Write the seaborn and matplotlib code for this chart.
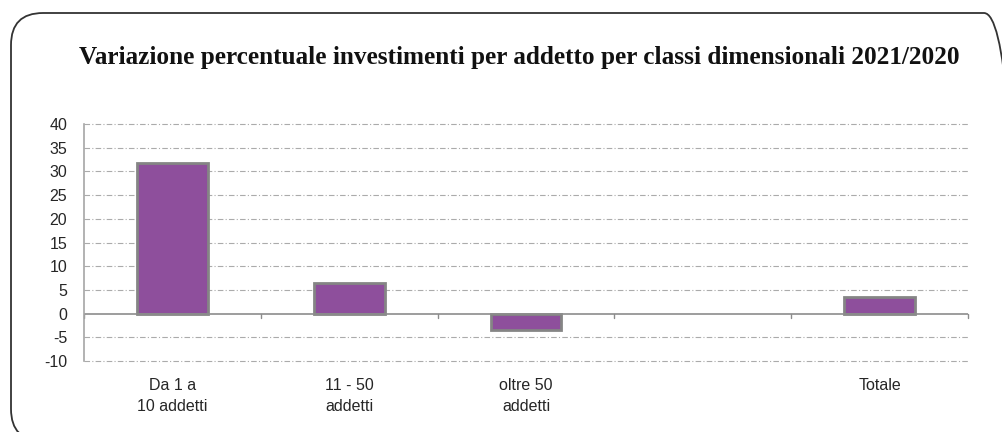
import seaborn as sns
import pandas as pd
import matplotlib.pyplot as plt
from matplotlib.patches import FancyBboxPatch

# Chart data
categories = ["Da 1 a\n10 addetti", "11 - 50\naddetti", "oltre 50\naddetti", " ", "Totale"]
bar_labels = ["Da 1 a\n10 addetti", "11 - 50\naddetti", "oltre 50\naddetti", "Totale"]
values = [31.8, 6.5, -3.4, 3.6]
yticks = [-10, -5, 0, 5, 10, 15, 20, 25, 30, 35, 40]

data = pd.DataFrame({"classe": bar_labels, "variazione": values})

sns.set_style("white")
plt.rcParams['font.family'] = ['Liberation Sans', 'DejaVu Sans']

fig = plt.figure(figsize=(10.02, 4.32), dpi=100)
ax = fig.add_axes([0.0838, 0.164, 0.8822, 0.549])

sns.barplot(data=data, x="classe", y="variazione", order=categories,
            color="#8E4F9C", saturation=1, width=0.4,
            edgecolor="#858585", linewidth=2, ax=ax)

ax.set_ylim(-10, 40)
ax.set_xlim(-0.5, len(categories) - 0.5)
ax.set_yticks(yticks)
ax.set_yticklabels([str(t) for t in yticks], fontsize=11.5)
ax.set_xlabel("")
ax.set_ylabel("")
ax.tick_params(axis="x", length=0, pad=12, labelsize=11.5)
for lbl in ax.get_xticklabels():
    lbl.set_linespacing(1.55)
ax.tick_params(axis="y", length=0, pad=12)

# dash-dot grid lines, except at zero
for t in yticks:
    if t != 0:
        ax.axhline(t, color="#ABABAB", lw=0.8, ls=(0, (5, 2, 1, 2)), zorder=0, clip_on=False)

# zero axis line with category separators
ax.axhline(0, color="#8C8C8C", lw=1.2, zorder=1)
for b in range(len(categories) + 1):
    ax.plot([b - 0.5, b - 0.5], [0, -0.9], color="#8C8C8C", lw=1, zorder=1, clip_on=False)

for s in ["top", "right", "bottom"]:
    ax.spines[s].set_visible(False)
ax.spines["left"].set_color("#A6A6A6")
ax.spines["left"].set_linewidth(1.2)

fig.text(0.518, 0.866, "Variazione percentuale investimenti per addetto per classi dimensionali 2021/2020",
         ha="center", va="center", fontsize=18.2, fontweight="bold",
         family=["Liberation Serif", "DejaVu Serif"], color="#111111")

# rounded frame
frame = FancyBboxPatch((0.11, -0.09), 10.05, 4.28, boxstyle="round,pad=0,rounding_size=0.32",
                       transform=fig.dpi_scale_trans, fill=False, edgecolor="#333333", lw=1.3)
fig.patches.append(frame)

plt.savefig("out.png", dpi=100)
